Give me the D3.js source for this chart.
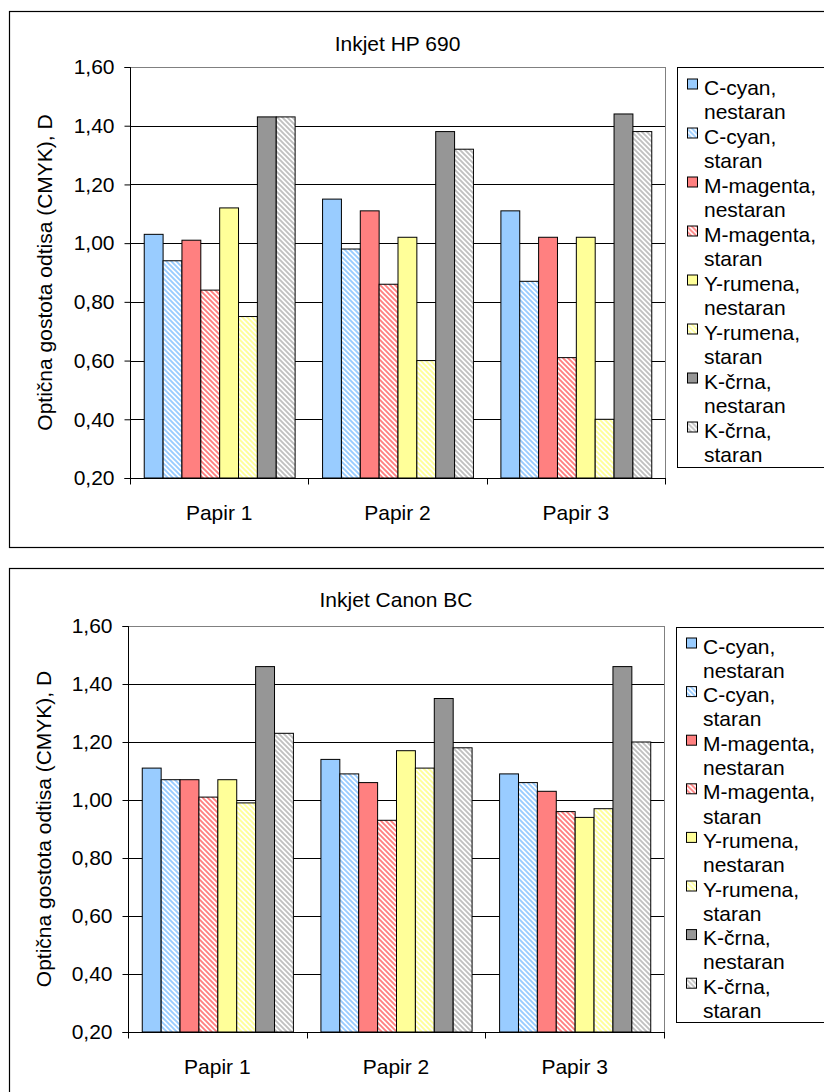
<!DOCTYPE html>
<html>
<head>
<meta charset="utf-8">
<script src="https://cdn.jsdelivr.net/npm/d3@7"></script>
<style>
  html, body { margin: 0; padding: 0; background: #fff; }
  svg { display: block; }
  text { font-family: "Liberation Sans", Arial, sans-serif; fill: #000; }
</style>
</head>
<body>
<svg id="chart" width="824" height="1092"></svg>
<script>
// ---- data ----
const categories = ["Papir 1", "Papir 2", "Papir 3"];
const seriesNames = [
  "C-cyan, nestaran", "C-cyan, staran",
  "M-magenta, nestaran", "M-magenta, staran",
  "Y-rumena, nestaran", "Y-rumena, staran",
  "K-črna, nestaran", "K-črna, staran"
];
const seriesColors = ["#99CCFF", "#99CCFF", "#FF8080", "#FF8080", "#FFFF99", "#FFFF99", "#969696", "#C0C0C0"];
const seriesHatched = [false, true, false, true, false, true, false, true];

const hpTitle = "Inkjet HP 690";
const hpCyanNew = [1.03, 1.15, 1.11];
const hpCyanOld = [0.94, 0.98, 0.87];
const hpMagentaNew = [1.01, 1.11, 1.02];
const hpMagentaOld = [0.84, 0.86, 0.61];
const hpYellowNew = [1.12, 1.02, 1.02];
const hpYellowOld = [0.75, 0.60, 0.40];
const hpBlackNew = [1.43, 1.38, 1.44];
const hpBlackOld = [1.43, 1.32, 1.38];

const canonTitle = "Inkjet Canon BC";
const canonCyanNew = [1.11, 1.14, 1.09];
const canonCyanOld = [1.07, 1.09, 1.06];
const canonMagentaNew = [1.07, 1.06, 1.03];
const canonMagentaOld = [1.01, 0.93, 0.96];
const canonYellowNew = [1.07, 1.17, 0.94];
const canonYellowOld = [0.99, 1.11, 0.97];
const canonBlackNew = [1.46, 1.35, 1.46];
const canonBlackOld = [1.23, 1.18, 1.20];

const yTicks = [0.20, 0.40, 0.60, 0.80, 1.00, 1.20, 1.40, 1.60];
const yAxisTitle = "Optična gostota odtisa (CMYK), D";

// ---- drawing ----
const svg = d3.select("#chart");
const defs = svg.append("defs");
const FONT = 21;

// hatch patterns (wide downward diagonal)
seriesColors.forEach((c, i) => {
  if (!seriesHatched[i]) return;
  const p = defs.append("pattern")
    .attr("id", "hatch" + i)
    .attr("patternUnits", "userSpaceOnUse")
    .attr("width", 5).attr("height", 5);
  p.append("rect").attr("width", 5).attr("height", 5).attr("fill", "#fff");
  p.append("path")
    .attr("d", "M-1,-1 L6,6 M-1,4 L1,6 M4,-1 L6,1")
    .attr("stroke", c).attr("stroke-width", 1.9).attr("fill", "none");
});
const fillOf = i => seriesHatched[i] ? `url(#hatch${i})` : seriesColors[i];

const fmt = v => d3.format(".2f")(v).replace(".", ",");

function drawChart(cfg) {
  const g = svg.append("g");
  const { frame, plot, legend, title, series } = cfg;

  // outer frame
  g.append("rect")
    .attr("x", frame.x + 0.5).attr("y", frame.y + 0.5)
    .attr("width", frame.w).attr("height", frame.h)
    .attr("fill", "#fff").attr("stroke", "#000").attr("stroke-width", 1.2);

  // title
  g.append("text")
    .attr("x", (plot.x0 + plot.x1) / 2).attr("y", cfg.titleY)
    .attr("text-anchor", "middle").attr("font-size", FONT)
    .text(title);

  const y = d3.scaleLinear().domain([0.2, 1.6]).range([plot.y1, plot.y0]);
  const x0 = d3.scaleBand().domain(categories).range([plot.x0, plot.x1])
    .paddingInner(0.154).paddingOuter(0.077);
  const x1 = d3.scaleBand().domain(d3.range(seriesNames.length)).range([0, x0.bandwidth()]);

  // plot area border (gray)
  g.append("rect")
    .attr("x", plot.x0 + 0.5).attr("y", plot.y0 + 0.5)
    .attr("width", plot.x1 - plot.x0).attr("height", plot.y1 - plot.y0)
    .attr("fill", "#fff").attr("stroke", "#808080").attr("stroke-width", 1);

  // gridlines
  g.append("g").selectAll("line").data(yTicks.slice(1, -1)).join("line")
    .attr("x1", plot.x0).attr("x2", plot.x1)
    .attr("y1", d => Math.round(y(d)) + 0.5).attr("y2", d => Math.round(y(d)) + 0.5)
    .attr("stroke", "#000").attr("stroke-width", 1);

  // bars
  const data = [];
  categories.forEach((c, ci) => series.forEach((s, si) => data.push({ c, si, v: s[ci] })));
  g.append("g").selectAll("rect").data(data).join("rect")
    .attr("x", d => x0(d.c) + x1(d.si) + 0.5)
    .attr("y", d => y(d.v))
    .attr("width", x1.bandwidth())
    .attr("height", d => y(0.2) - y(d.v))
    .attr("fill", d => fillOf(d.si))
    .attr("stroke", "#000").attr("stroke-width", 1);

  // y axis
  const yAxis = d3.axisLeft(y).tickValues(yTicks).tickFormat(fmt).tickSize(6).tickPadding(10);
  const ya = g.append("g").attr("transform", `translate(${plot.x0 + 0.5},0)`).call(yAxis);
  ya.selectAll("text").attr("font-size", FONT).attr("font-family", "Liberation Sans, Arial, sans-serif").attr("fill", "#000");
  ya.selectAll("line,path").attr("stroke", "#000");
  ya.select(".domain").attr("d", `M-6,${plot.y0 + 0.5}H0V${plot.y1 + 0.5}H-6`);

  // x axis
  const xb = d3.scaleLinear().domain([0, categories.length]).range([plot.x0, plot.x1]);
  const xa = g.append("g").attr("transform", `translate(0,${plot.y1 + 0.5})`);
  xa.append("line").attr("x1", plot.x0).attr("x2", plot.x1 + 1).attr("stroke", "#000");
  xa.selectAll("line.tk").data(d3.range(categories.length + 1)).join("line").attr("class", "tk")
    .attr("x1", d => Math.round(xb(d)) + 0.5).attr("x2", d => Math.round(xb(d)) + 0.5)
    .attr("y1", 0).attr("y2", 6).attr("stroke", "#000");
  xa.selectAll("text").data(categories).join("text")
    .attr("x", d => x0(d) + x0.bandwidth() / 2).attr("y", 41)
    .attr("text-anchor", "middle").attr("font-size", FONT).text(d => d);

  // y axis title
  g.append("text")
    .attr("transform", `translate(${cfg.yTitleX},${(plot.y0 + plot.y1) / 2}) rotate(-90)`)
    .attr("text-anchor", "middle").attr("font-size", FONT)
    .text(yAxisTitle);

  // legend
  g.append("rect")
    .attr("x", legend.x + 0.5).attr("y", legend.y + 0.5)
    .attr("width", 200).attr("height", legend.h)
    .attr("fill", "#fff").attr("stroke", "#000").attr("stroke-width", 1);
  const items = g.append("g").selectAll("g").data(seriesNames).join("g")
    .attr("transform", (d, i) => `translate(${legend.x},${legend.y + legend.first + i * 2 * legend.step})`);
  items.append("rect")
    .attr("x", 10.5).attr("y", -15.5).attr("width", 10).attr("height", 10)
    .attr("fill", (d, i) => fillOf(i)).attr("stroke", "#000").attr("stroke-width", 1);
  items.each(function (d) {
    const parts = d.split(", ");
    const t = d3.select(this).append("text").attr("font-size", FONT).attr("x", 27);
    t.append("tspan").attr("x", 27).attr("y", 0).text(parts[0] + ",");
    t.append("tspan").attr("x", 27).attr("y", legend.step).text(parts[1]);
  });
}

drawChart({
  frame: { x: 9, y: 11, w: 840, h: 536 },
  plot: { x0: 130, x1: 665, y0: 67, y1: 478 },
  legend: { x: 677, y: 67, h: 400, first: 27.5, step: 24.5 },
  title: hpTitle, titleY: 51, yTitleX: 52,
  series: [hpCyanNew, hpCyanOld, hpMagentaNew, hpMagentaOld, hpYellowNew, hpYellowOld, hpBlackNew, hpBlackOld]
});

drawChart({
  frame: { x: 9, y: 568, w: 840, h: 560 },
  plot: { x0: 128, x1: 664, y0: 626, y1: 1032 },
  legend: { x: 676, y: 627, h: 395, first: 26.5, step: 24.3 },
  title: canonTitle, titleY: 607, yTitleX: 51,
  series: [canonCyanNew, canonCyanOld, canonMagentaNew, canonMagentaOld, canonYellowNew, canonYellowOld, canonBlackNew, canonBlackOld]
});
</script>
</body>
</html>
